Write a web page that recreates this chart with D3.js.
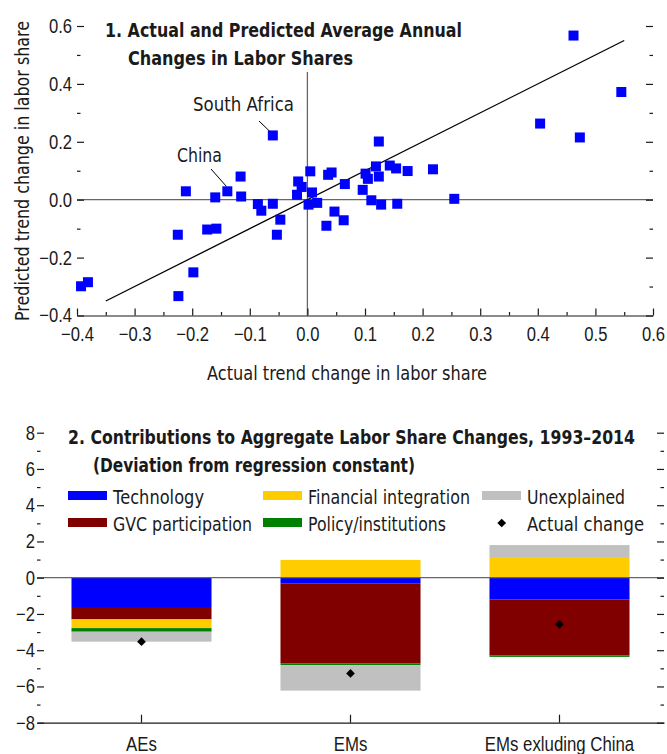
<!DOCTYPE html>
<html>
<head>
<meta charset="utf-8">
<script src="https://cdn.jsdelivr.net/npm/d3@7"></script>
<style>
  body { margin: 0; background: #fff; }
  svg { display: block; font-family: "Liberation Sans Narrow", "DejaVu Sans", sans-serif; }
  .tick text { font-size: 20px; fill: #1a1a1a; }
  .tick line, .domain { stroke: #1a1a1a; stroke-width: 1.2; }
  .ttl { font-size: 20px; font-weight: bold; fill: #1a1a1a; }
  .lbl { font-size: 20px; fill: #1a1a1a; }
</style>
</head>
<body>
<script>
// panel 1: actual vs predicted trend change (each point = one country)
var actual = [-0.393, -0.381, -0.224, -0.198, -0.225, -0.211, -0.174, -0.158, -0.160, -0.139,
  -0.116, -0.115, -0.086, -0.080, -0.060, -0.060, -0.047, -0.053, -0.016, -0.010,
  -0.018, 0.005, 0.008, 0.002, 0.017, 0.036, 0.042, 0.047, 0.033, 0.065,
  0.063, 0.096, 0.101, 0.105, 0.111, 0.119, 0.124, 0.124, 0.128, 0.143,
  0.154, 0.156, 0.174, 0.218, 0.255, 0.404, 0.462, 0.473, 0.545];
var predicted = [-0.299, -0.285, -0.333, -0.251, -0.121, 0.029, -0.103, -0.100, 0.008, 0.029,
  0.080, 0.011, -0.015, -0.038, 0.222, -0.014, -0.069, -0.121, 0.063, 0.044,
  0.017, 0.098, 0.025, -0.017, -0.011, 0.086, 0.094, -0.041, -0.090, 0.054,
  -0.071, 0.034, 0.090, 0.072, -0.002, 0.115, 0.080, 0.201, -0.017, 0.118,
  0.108, -0.014, 0.099, 0.105, 0.003, 0.263, 0.567, 0.215, 0.372];
var fitLine = [[-0.35, -0.35], [0.55, 0.55]];
var labelled = [
  { name: "South Africa", x: -0.060, y: 0.222 },
  { name: "China", x: -0.139, y: 0.029 }
];

// panel 2: contributions to labor share changes
var groups = ["AEs", "EMs", "EMs exluding China"];
var factors = ["Technology", "GVC participation", "Financial integration", "Policy/institutions", "Unexplained"];
var technology = [-1.67, -0.33, -1.21];
var gvc = [-0.63, -4.39, -3.07];
var financial = [-0.48, 0.98, 1.14];
var policy = [-0.20, -0.10, -0.09];
var unexplained = [-0.55, -1.41, 0.66];
var actualChange = [-3.53, -5.28, -2.57];
var colors = ["#0000ff", "#800000", "#ffcc00", "#008000", "#c0c0c0"];

var width = 667, height = 754;
var svg = d3.select("body").append("svg")
  .attr("width", width)
  .attr("height", height);

// the original uses a condensed face, so squeeze the glyphs to its widths
function fit(sel, w) {
  return sel.attr("textLength", w).attr("lengthAdjust", "spacingAndGlyphs");
}
function squeeze(g, k) {
  g.selectAll(".tick text").each(function() {
    var l = this.getComputedTextLength();
    if (l > 0) fit(d3.select(this), l * k);
  });
}
var diamond = d3.symbol().type(d3.symbolSquare).size(38);

// ---------- panel 1 ----------
var x1 = d3.scaleLinear().domain([-0.4, 0.6]).range([77, 653]);
var y1 = d3.scaleLinear().domain([-0.4, 0.6]).range([315.5, 26]);
var fmt1 = d3.format(".1f");

var p1 = svg.append("g");

// zero lines
p1.append("line").attr("x1", x1(-0.4)).attr("x2", x1(0.6)).attr("y1", y1(0)).attr("y2", y1(0))
  .attr("stroke", "#666").attr("stroke-width", 1.3);
p1.append("line").attr("x1", x1(0)).attr("x2", x1(0)).attr("y1", 72).attr("y2", y1(-0.4))
  .attr("stroke", "#666").attr("stroke-width", 1.3);

p1.append("g").attr("transform", "translate(77,0)")
  .call(d3.axisLeft(y1).tickValues([-0.4, -0.2, 0, 0.2, 0.4, 0.6]).tickSize(-7).tickPadding(5).tickFormat(fmt1))
  .call(g => g.select(".domain").remove())
  .call(g => squeeze(g, 0.83));
p1.append("g").attr("transform", "translate(77,0)")
  .call(d3.axisLeft(y1).tickValues([-0.3, -0.1, 0.1, 0.3, 0.5]).tickSize(-3.5).tickFormat(""))
  .call(g => g.select(".domain").remove());
p1.append("g").attr("transform", "translate(653,0)")
  .call(d3.axisRight(y1).tickValues([-0.4, -0.2, 0, 0.2, 0.4, 0.6]).tickSize(-7).tickFormat(""))
  .call(g => g.select(".domain").remove());
p1.append("g").attr("transform", "translate(653,0)")
  .call(d3.axisRight(y1).tickValues([-0.3, -0.1, 0.1, 0.3, 0.5]).tickSize(-3.5).tickFormat(""))
  .call(g => g.select(".domain").remove());
p1.append("g").attr("transform", "translate(0,315.5)")
  .call(d3.axisBottom(x1).tickValues(d3.range(-4, 7).map(d => d / 10)).tickSize(-7).tickSizeOuter(0).tickPadding(11).tickFormat(fmt1))
  .call(g => squeeze(g, 0.83));
p1.append("g").attr("transform", "translate(0,315.5)")
  .call(d3.axisBottom(x1).tickValues(d3.range(-35, 60, 10).map(d => d / 100)).tickSize(-3.5).tickFormat(""))
  .call(g => g.select(".domain").remove());

// fitted line
p1.append("line")
  .attr("x1", x1(fitLine[0][0])).attr("y1", y1(fitLine[0][1]))
  .attr("x2", x1(fitLine[1][0])).attr("y2", y1(fitLine[1][1]))
  .attr("stroke", "#000").attr("stroke-width", 1.3);

// points
p1.selectAll(".pt")
  .data(actual.map((a, i) => [a, predicted[i]]))
  .enter().append("rect")
  .attr("class", "pt")
  .attr("x", d => x1(d[0]) - 5)
  .attr("y", d => y1(d[1]) - 5)
  .attr("width", 10).attr("height", 10)
  .attr("fill", "#0000ff");

// annotations
p1.append("line").attr("x1", 259).attr("y1", 121).attr("x2", x1(labelled[0].x) - 3).attr("y2", y1(labelled[0].y) - 4)
  .attr("stroke", "#000");
fit(p1.append("text").attr("class", "lbl").attr("x", 193).attr("y", 111).text(labelled[0].name), 101);
p1.append("line").attr("x1", 211).attr("y1", 169).attr("x2", x1(labelled[1].x) - 1).attr("y2", y1(labelled[1].y) - 5)
  .attr("stroke", "#000");
fit(p1.append("text").attr("class", "lbl").attr("x", 177).attr("y", 162).text(labelled[1].name), 45);

// titles
fit(p1.append("text").attr("class", "ttl").attr("x", 105).attr("y", 37).text("1. Actual and Predicted Average Annual"), 357);
fit(p1.append("text").attr("class", "ttl").attr("x", 128).attr("y", 65).text("Changes in Labor Shares"), 225);
fit(p1.append("text").attr("class", "lbl").attr("x", 347).attr("y", 380).attr("text-anchor", "middle")
  .text("Actual trend change in labor share"), 280);
fit(p1.append("text").attr("class", "lbl").attr("transform", "translate(29,171) rotate(-90)")
  .attr("text-anchor", "middle").text("Predicted trend change in labor share"), 300);

// ---------- panel 2 ----------
var x2 = d3.scaleBand().domain(groups).range([37, 664]).paddingInner(0.33).paddingOuter(0.165);
var y2 = d3.scaleLinear().domain([-8, 8]).range([722.7, 432.7]);

var p2 = svg.append("g");

var rows = groups.map((g, i) => ({
  group: g,
  "Technology": technology[i],
  "GVC participation": gvc[i],
  "Financial integration": financial[i],
  "Policy/institutions": policy[i],
  "Unexplained": unexplained[i]
}));
var stacked = d3.stack().keys(factors).offset(d3.stackOffsetDiverging)(rows);

p2.selectAll(".layer")
  .data(stacked)
  .enter().append("g")
  .attr("fill", (d, i) => colors[i])
  .selectAll("rect")
  .data(d => d)
  .enter().append("rect")
  .attr("x", d => x2(d.data.group))
  .attr("width", x2.bandwidth())
  .attr("y", d => y2(Math.max(d[0], d[1])))
  .attr("height", d => Math.abs(y2(d[0]) - y2(d[1])));

p2.append("line").attr("x1", 37).attr("x2", 664).attr("y1", y2(0)).attr("y2", y2(0))
  .attr("stroke", "#666").attr("stroke-width", 1.3);

p2.selectAll(".dia")
  .data(actualChange)
  .enter().append("path")
  .attr("d", diamond)
  .attr("transform", (d, i) => "translate(" + (x2(groups[i]) + x2.bandwidth() / 2) + "," + y2(d) + ") rotate(45)")
  .attr("fill", "#000");

p2.append("g").attr("transform", "translate(37,0)")
  .call(d3.axisLeft(y2).tickValues(d3.range(-8, 9, 2)).tickSize(-7).tickPadding(2).tickFormat(d3.format("d")))
  .call(g => g.select(".domain").remove())
  .call(g => squeeze(g, 0.83));
p2.append("g").attr("transform", "translate(37,0)")
  .call(d3.axisLeft(y2).tickValues(d3.range(-7, 8, 2)).tickSize(-3.5).tickFormat(""))
  .call(g => g.select(".domain").remove());
p2.append("g").attr("transform", "translate(664,0)")
  .call(d3.axisRight(y2).tickValues(d3.range(-8, 9, 2)).tickSize(-7).tickFormat(""))
  .call(g => g.select(".domain").remove());
p2.append("g").attr("transform", "translate(664,0)")
  .call(d3.axisRight(y2).tickValues(d3.range(-7, 8, 2)).tickSize(-3.5).tickFormat(""))
  .call(g => g.select(".domain").remove());
p2.append("g").attr("transform", "translate(0,722.7)")
  .call(d3.axisBottom(x2).tickSize(-8).tickSizeOuter(0).tickPadding(14))
  .call(g => squeeze(g, 0.84));

fit(p2.append("text").attr("class", "ttl").attr("x", 68).attr("y", 444)
  .text("2. Contributions to Aggregate Labor Share Changes, 1993\u20132014"), 567);
fit(p2.append("text").attr("class", "ttl").attr("x", 93).attr("y", 472)
  .text("(Deviation from regression constant)"), 322);

// legend
var legPos = [[68, 496], [68, 523], [263, 496], [263, 523], [482, 496]];
var legW = [91, 139, 162, 138, 98];
var leg = p2.append("g");
factors.forEach(function(f, i) {
  leg.append("rect").attr("x", legPos[i][0]).attr("y", legPos[i][1] - 5).attr("width", 39).attr("height", 9)
    .attr("fill", colors[i]);
  fit(leg.append("text").attr("class", "lbl").attr("x", legPos[i][0] + 45).attr("y", legPos[i][1] + 8).text(f), legW[i]);
});
leg.append("path").attr("d", diamond)
  .attr("transform", "translate(501.7,523) rotate(45)").attr("fill", "#000");
fit(leg.append("text").attr("class", "lbl").attr("x", 527).attr("y", 531).text("Actual change"), 117);
</script>
</body>
</html>
